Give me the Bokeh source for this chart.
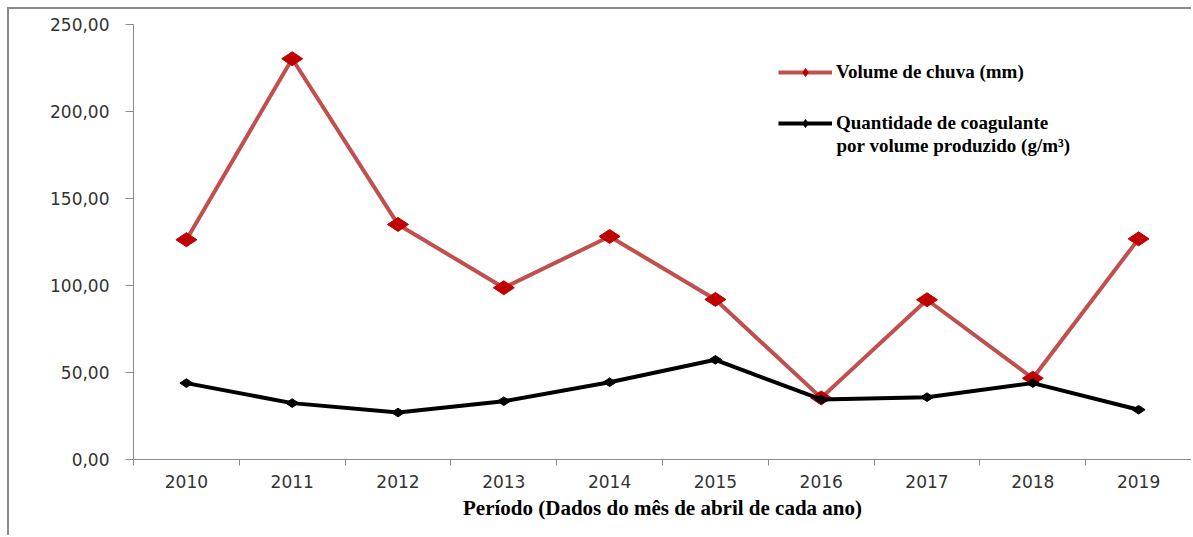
import math

from bokeh.plotting import figure
from bokeh.models import (Range1d, FixedTicker, CustomJSTickFormatter, Legend,
                          LegendItem, Label)
from bokeh.embed import file_html
from bokeh.resources import INLINE

# April data for each year
years = [2010, 2011, 2012, 2013, 2014, 2015, 2016, 2017, 2018, 2019]
rain_mm = [126.3, 230.3, 135.1, 98.7, 128.2, 92.0, 35.4, 91.8, 46.7, 126.8]
coagulant_g_m3 = [43.9, 32.4, 27.0, 33.5, 44.4, 57.3, 34.5, 35.8, 43.9, 28.6]
y_ticks = [0, 50, 100, 150, 200, 250]

rain_label = "Volume de chuva (mm)"
coag_label_1 = "Quantidade de coagulante"
coag_label_2 = "por volume produzido (g/m³)"
x_title = "Período (Dados do mês de abril de cada ano)"

AXIS_GREY = "#8c8c8c"
LABEL_GREY = "#333333"

p = figure(
    width=1184, height=528,
    output_backend="svg", toolbar_location=None,
    x_range=Range1d(years[0] - 0.5, years[-1] + 0.5),
    y_range=Range1d(0, 250),
    min_border_left=124, min_border_right=2,
    min_border_top=15, min_border_bottom=78,
)
p.styles = {
    "margin-left": "7px", "margin-top": "7px",
    "border-left": "2px solid #8a8a8a", "border-top": "2px solid #8a8a8a",
}
p.outline_line_color = None
p.xgrid.visible = False
p.ygrid.visible = False
p.background_fill_color = "white"
p.border_fill_color = "white"

# category boundaries carry the tick marks, category centres carry the labels
bounds = [y - 0.5 for y in years] + [years[-1] + 0.5]
xa = p.xaxis[0]
xa.ticker = FixedTicker(ticks=years, minor_ticks=bounds)
xa.major_tick_in = 0
xa.major_tick_out = 0
xa.minor_tick_in = 0
xa.minor_tick_out = 6
xa.minor_tick_line_color = AXIS_GREY
xa.axis_line_color = AXIS_GREY
xa.major_label_text_font = "DejaVu Sans"
xa.major_label_text_font_size = "17px"
xa.major_label_text_color = LABEL_GREY
xa.major_label_standoff = 9
xa.axis_label = x_title
xa.axis_label_text_font = "Liberation Serif"
xa.axis_label_text_font_style = "bold"
xa.axis_label_text_font_size = "21px"
xa.axis_label_text_color = "black"
xa.axis_label_standoff = 5

ya = p.yaxis[0]
ya.ticker = FixedTicker(ticks=y_ticks, minor_ticks=[])
ya.formatter = CustomJSTickFormatter(code="return tick.toFixed(2).replace('.', ',');")
ya.major_tick_in = 0
ya.major_tick_out = 8
ya.major_tick_line_color = AXIS_GREY
ya.minor_tick_line_color = None
ya.axis_line_color = AXIS_GREY
ya.major_label_text_font = "DejaVu Sans"
ya.major_label_text_font_size = "17px"
ya.major_label_text_color = LABEL_GREY
ya.major_label_standoff = 16

# rainfall series
rain_line = p.line(years, rain_mm, line_color="#C0504D", line_width=4)
rain_pts = p.scatter(years, rain_mm, marker="diamond", size=21, angle=math.pi / 2,
                     fill_color="#C00000", line_color="#C00000")

# coagulant series
coag_line = p.line(years, coagulant_g_m3, line_color="black", line_width=4)
coag_pts = p.scatter(years, coagulant_g_m3, marker="diamond", size=13,
                     angle=math.pi / 2, fill_color="black", line_color="black")


def make_legend(label, renderers, loc):
    return Legend(
        items=[LegendItem(label=label, renderers=renderers)],
        location=loc, padding=0, margin=0, spacing=0,
        glyph_width=54, glyph_height=20, label_height=20, label_standoff=4,
        border_line_color=None, background_fill_alpha=0,
        label_text_font="Liberation Serif", label_text_font_style="bold",
        label_text_font_size="19px", label_text_color="black",
    )


p.add_layout(make_legend(rain_label, [rain_line, rain_pts], (645, 376)))
p.add_layout(make_legend(coag_label_1, [coag_line, coag_pts], (645, 325)))
p.add_layout(Label(
    x=703, y=314, x_units="screen", y_units="screen",
    text=coag_label_2, text_font="Liberation Serif", text_font_style="bold",
    text_font_size="19px", text_color="black", text_baseline="middle",
))

open("out.html", "w").write(file_html(p, INLINE))
